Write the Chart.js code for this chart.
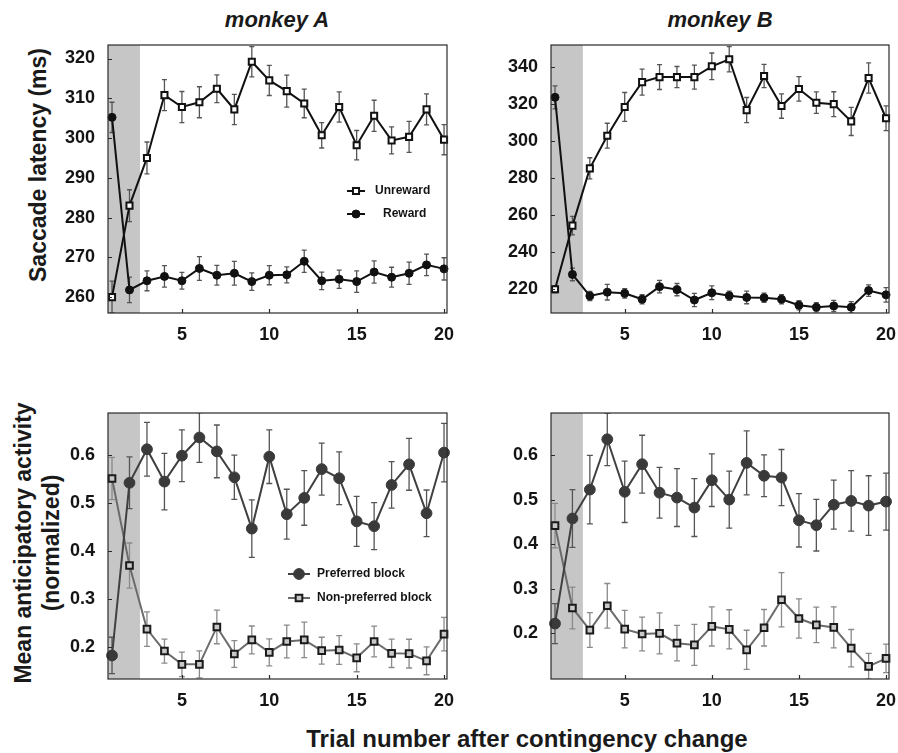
<!DOCTYPE html>
<html>
<head>
<meta charset="utf-8">
<script src="https://cdn.jsdelivr.net/npm/chart.js@4.4.1/dist/chart.umd.min.js"></script>
<style>
  body { margin: 0; background: #fff; }
  #page { position: relative; width: 898px; height: 753px; overflow: hidden; font-family: 'Liberation Sans', Arial, sans-serif; color: #1a1a1a; }
  canvas { position: absolute; }
  .lbl { position: absolute; white-space: nowrap; font-weight: bold; line-height: 1; transform: translate(-50%, -50%); }
  .rot { transform: translate(-50%, -50%) rotate(-90deg); }
</style>
</head>
<body>
<div id="page">
  <div class="lbl" style="left:277px; top:20px; font-size:22px; font-style:italic;">monkey A</div>
  <div class="lbl" style="left:720px; top:20px; font-size:22px; font-style:italic;">monkey B</div>
  <div class="lbl rot" style="left:38px; top:165px; font-size:23px;">Saccade latency (ms)</div>
  <div class="lbl rot" style="left:23px; top:543px; font-size:23px;">Mean anticipatory activity</div>
  <div class="lbl rot" style="left:51px; top:543px; font-size:23px;">(normalized)</div>
  <div class="lbl" style="left:527px; top:739px; font-size:24px;">Trial number after contingency change</div>

  <canvas id="latA" width="420" height="318" style="left:48px; top:35px;"></canvas>
  <canvas id="latB" width="407" height="318" style="left:491px; top:35px;"></canvas>
  <canvas id="actA" width="420" height="316" style="left:48px; top:403px;"></canvas>
  <canvas id="actB" width="407" height="316" style="left:491px; top:403px;"></canvas>
</div>
<script>
// trials after the contingency change
const trials = [1, 2, 3, 4, 5, 6, 7, 8, 9, 10, 11, 12, 13, 14, 15, 16, 17, 18, 19, 20];
const xTicks = [5, 10, 15, 20];
const shadeEnd = 2.6;

// saccade latency (ms), monkey A
const latAUnreward = [260, 283, 295, 310.8, 307.8, 309, 312.4, 307.2, 319.2, 314.5, 311.8, 308.7, 300.7, 307.8, 298.2, 305.6, 299.4, 300.3, 307.2, 299.6];
const latAUnrewardErr = [4, 4, 4, 3.9, 3.9, 3.9, 3.5, 3.8, 3.8, 3.8, 4, 3.6, 3.2, 3.8, 3.7, 3.9, 3.4, 3.9, 3.9, 3.8];
const latAReward = [305.2, 261.8, 264.1, 265.2, 264.1, 267.2, 265.5, 266, 263.9, 265.5, 265.6, 269, 264.1, 264.5, 263.9, 266.3, 265, 266, 268.1, 267.1];
const latARewardErr = [3.8, 3.2, 2.5, 2.7, 2.1, 3, 2.5, 3, 2.2, 2.4, 2, 2.8, 2.2, 2.3, 2.7, 2.8, 2.5, 2.8, 2.7, 2.8];
const latATicks = [260, 270, 280, 290, 300, 310, 320];

// saccade latency (ms), monkey B
const latBUnreward = [220, 254.3, 285.2, 302.8, 318.3, 331.7, 334.4, 334.4, 334.4, 340.2, 344, 316.6, 335, 318.8, 328, 320.6, 319.8, 310.5, 333.9, 312.2];
const latBUnrewardErr = [2, 5, 5.7, 6.7, 7.8, 7, 6.7, 5.7, 6.5, 7.2, 6.8, 6.8, 6.3, 6.6, 6.6, 5.8, 6.7, 7.6, 8.2, 6.7];
const latBReward = [323.5, 228, 216.4, 218.4, 217.8, 214.6, 221.4, 219.8, 214.2, 218.1, 216.5, 215.6, 215.4, 214.6, 211.4, 210.3, 211, 210.3, 219.3, 217];
const latBRewardErr = [6.2, 3.4, 2.5, 4.2, 2.5, 2.5, 3.4, 3.3, 3.6, 3.7, 2.5, 3.4, 2.5, 2.5, 2.5, 2.5, 3, 3, 3.1, 3.9];
const latBTicks = [220, 240, 260, 280, 300, 320, 340];

// anticipatory activity (normalized), monkey A
const actAPref = [0.1825, 0.5425, 0.6125, 0.545, 0.599, 0.637, 0.608, 0.554, 0.447, 0.597, 0.477, 0.511, 0.571, 0.552, 0.462, 0.452, 0.538, 0.581, 0.479, 0.6055];
const actAPrefErr = [0.038, 0.054, 0.056, 0.059, 0.054, 0.052, 0.055, 0.046, 0.06, 0.056, 0.052, 0.057, 0.054, 0.055, 0.052, 0.049, 0.0485, 0.054, 0.0485, 0.061];
const actANonPref = [0.5515, 0.37, 0.2374, 0.1918, 0.164, 0.164, 0.242, 0.1857, 0.215, 0.189, 0.2116, 0.215, 0.1925, 0.194, 0.1776, 0.2116, 0.187, 0.1864, 0.1714, 0.227];
const actANonPrefErr = [0.044, 0.047, 0.036, 0.025, 0.0255, 0.028, 0.035, 0.028, 0.029, 0.028, 0.034, 0.037, 0.028, 0.03, 0.029, 0.032, 0.0295, 0.03, 0.029, 0.035];

// anticipatory activity (normalized), monkey B
const actBPref = [0.222, 0.458, 0.523, 0.636, 0.518, 0.58, 0.516, 0.505, 0.4826, 0.544, 0.5005, 0.583, 0.554, 0.55, 0.454, 0.443, 0.489, 0.4975, 0.487, 0.496];
const actBPrefErr = [0.045, 0.065, 0.077, 0.059, 0.069, 0.065, 0.057, 0.065, 0.065, 0.059, 0.064, 0.072, 0.047, 0.063, 0.06, 0.058, 0.055, 0.068, 0.067, 0.064];
const actBNonPref = [0.442, 0.257, 0.2074, 0.262, 0.2096, 0.1985, 0.2, 0.178, 0.174, 0.2156, 0.209, 0.163, 0.2126, 0.2756, 0.2333, 0.219, 0.2133, 0.1667, 0.126, 0.1437];
const actBNonPrefErr = [0.05, 0.047, 0.039, 0.05, 0.042, 0.038, 0.046, 0.04, 0.046, 0.044, 0.044, 0.044, 0.041, 0.061, 0.044, 0.04, 0.046, 0.042, 0.029, 0.032];
const actTicks = [0.2, 0.3, 0.4, 0.5, 0.6];

const fontFamily = "'Liberation Sans', Arial, sans-serif";
const inkColor = '#141414';

// shading, error bars, box frame and legend
const panelDecor = {
    id: 'panelDecor',
    beforeDatasetsDraw(chart) {
        const ctx = chart.ctx;
        const a = chart.chartArea;
        const x = chart.scales.x;
        const y = chart.scales.y;
        ctx.save();
        ctx.beginPath();
        ctx.rect(a.left, a.top, a.right - a.left, a.bottom - a.top);
        ctx.clip();
        let x0 = x.getPixelForValue(x.min);
        let x1 = x.getPixelForValue(shadeEnd);
        ctx.fillStyle = '#c6c6c6';
        ctx.fillRect(x0, a.top, x1 - x0, a.bottom - a.top);

        chart.data.datasets.forEach(ds => {
            ctx.strokeStyle = ds.errColor;
            ctx.lineWidth = 1.3;
            ds.data.forEach((v, i) => {
                let px = x.getPixelForValue(trials[i]);
                let top = y.getPixelForValue(v + ds.errors[i]);
                let bot = y.getPixelForValue(v - ds.errors[i]);
                ctx.beginPath();
                ctx.moveTo(px, top);
                ctx.lineTo(px, bot);
                ctx.moveTo(px - ds.capSize, top);
                ctx.lineTo(px + ds.capSize, top);
                ctx.moveTo(px - ds.capSize, bot);
                ctx.lineTo(px + ds.capSize, bot);
                ctx.stroke();
            });
        });
        ctx.restore();
    },
    afterDraw(chart, args, opts) {
        const ctx = chart.ctx;
        const a = chart.chartArea;
        const x = chart.scales.x;
        const y = chart.scales.y;
        ctx.save();
        ctx.strokeStyle = '#2a2a2a';
        ctx.lineWidth = 1.2;
        ctx.strokeRect(a.left, a.top, a.right - a.left, a.bottom - a.top);
        ctx.beginPath();
        xTicks.forEach(v => {
            let px = Math.round(x.getPixelForValue(v)) + 0.5;
            ctx.moveTo(px, a.bottom);
            ctx.lineTo(px, a.bottom - 4);
        });
        opts.yTicks.forEach(v => {
            let py = Math.round(y.getPixelForValue(v)) + 0.5;
            ctx.moveTo(a.left, py);
            ctx.lineTo(a.left + 4, py);
        });
        ctx.stroke();

        // legend
        opts.legend.forEach(item => {
            let ds = chart.data.datasets[item.ds];
            ctx.strokeStyle = ds.borderColor;
            ctx.lineWidth = ds.borderWidth;
            ctx.beginPath();
            ctx.moveTo(item.x1, item.y);
            ctx.lineTo(item.x2, item.y);
            ctx.stroke();
            ctx.fillStyle = ds.pointBackgroundColor;
            ctx.strokeStyle = ds.pointBorderColor;
            ctx.lineWidth = ds.pointBorderWidth;
            Chart.helpers.drawPoint(ctx, {
                pointStyle: ds.pointStyle,
                radius: ds.pointRadius,
                rotation: 0,
                borderWidth: ds.pointBorderWidth
            }, (item.x1 + item.x2) / 2, item.y);
            ctx.fillStyle = inkColor;
            ctx.font = 'bold 12px ' + fontFamily;
            ctx.textBaseline = 'middle';
            ctx.fillText(ds.label, item.tx, item.y);
        });
        ctx.restore();
    }
};

function makeSeries(label, values, errors, style) {
    return Object.assign({
        label: label,
        data: values,
        errors: errors,
        borderWidth: 2,
        pointBorderWidth: 2,
        pointHoverRadius: 0,
        tension: 0,
        clip: false
    }, style);
}

function makePanel(id, datasets, yMin, yMax, yTicks, padRight, legend) {
    return new Chart(document.getElementById(id), {
        type: 'line',
        data: {
            labels: trials,
            datasets: datasets
        },
        options: {
            responsive: false,
            animation: false,
            devicePixelRatio: 1,
            layout: { padding: { top: 10, right: padRight, bottom: 0, left: 0 } },
            plugins: {
                legend: { display: false },
                tooltip: { enabled: false },
                panelDecor: { yTicks: yTicks, legend: legend }
            },
            scales: {
                x: {
                    type: 'linear',
                    min: 0.77,
                    max: 20.17,
                    afterBuildTicks: s => { s.ticks = xTicks.map(v => ({ value: v })); },
                    afterFit: s => { s.height = 40; s.paddingLeft = 0; s.paddingRight = 0; },
                    grid: { display: false },
                    border: { display: false },
                    ticks: {
                        color: inkColor,
                        padding: 3,
                        maxRotation: 0,
                        autoSkip: false,
                        font: { family: fontFamily, size: 18, weight: 'bold' }
                    }
                },
                y: {
                    min: yMin,
                    max: yMax,
                    afterBuildTicks: s => { s.ticks = yTicks.map(v => ({ value: v })); },
                    afterFit: s => { s.width = 60; s.paddingTop = 0; s.paddingBottom = 0; },
                    grid: { display: false },
                    border: { display: false },
                    ticks: {
                        color: inkColor,
                        padding: 5,
                        autoSkip: false,
                        font: { family: fontFamily, size: 18, weight: 'bold' },
                        callback: v => (yTicks[0] < 1 ? v.toFixed(1) : String(v))
                    }
                }
            }
        },
        plugins: [panelDecor]
    });
}

const unrewardStyle = { borderColor: '#111', pointStyle: 'rect', pointRadius: 4.3, pointBackgroundColor: '#fff', pointBorderColor: '#111', errColor: '#555', capSize: 2.5 };
const rewardStyle = { borderColor: '#111', pointStyle: 'circle', pointRadius: 4, pointBackgroundColor: '#111', pointBorderColor: '#111', pointBorderWidth: 1, errColor: '#555', capSize: 2.5 };
const prefStyle = { borderColor: '#404040', pointStyle: 'circle', pointRadius: 5.4, pointBackgroundColor: '#3a3a3a', pointBorderColor: '#3a3a3a', pointBorderWidth: 1, errColor: '#555', capSize: 3 };
const nonPrefStyle = { borderColor: '#6b6b6b', pointStyle: 'rect', pointRadius: 4.7, pointBackgroundColor: '#c8c8c8', pointBorderColor: '#1a1a1a', errColor: '#8a8a8a', capSize: 3 };

makePanel('latA', [
    makeSeries('Unreward', latAUnreward, latAUnrewardErr, unrewardStyle),
    makeSeries('Reward', latAReward, latARewardErr, rewardStyle)
], 256, 323.4, latATicks, 21, [
    { ds: 0, x1: 299, x2: 317, y: 156, tx: 327 },
    { ds: 1, x1: 299, x2: 317, y: 179, tx: 335 }
]);

makePanel('latB', [
    makeSeries('Unreward', latBUnreward, latBUnrewardErr, unrewardStyle),
    makeSeries('Reward', latBReward, latBRewardErr, rewardStyle)
], 207.2, 351.7, latBTicks, 9, []);

makePanel('actA', [
    makeSeries('Preferred block', actAPref, actAPrefErr, prefStyle),
    makeSeries('Non-preferred block', actANonPref, actANonPrefErr, nonPrefStyle)
], 0.1335, 0.688, actTicks, 21, [
    { ds: 0, x1: 240, x2: 262, y: 171, tx: 269 },
    { ds: 1, x1: 240, x2: 262, y: 195, tx: 269 }
]);

makePanel('actB', [
    makeSeries('Preferred block', actBPref, actBPrefErr, prefStyle),
    makeSeries('Non-preferred block', actBNonPref, actBNonPrefErr, nonPrefStyle)
], 0.0975, 0.695, actTicks, 9, []);
</script>
</body>
</html>
